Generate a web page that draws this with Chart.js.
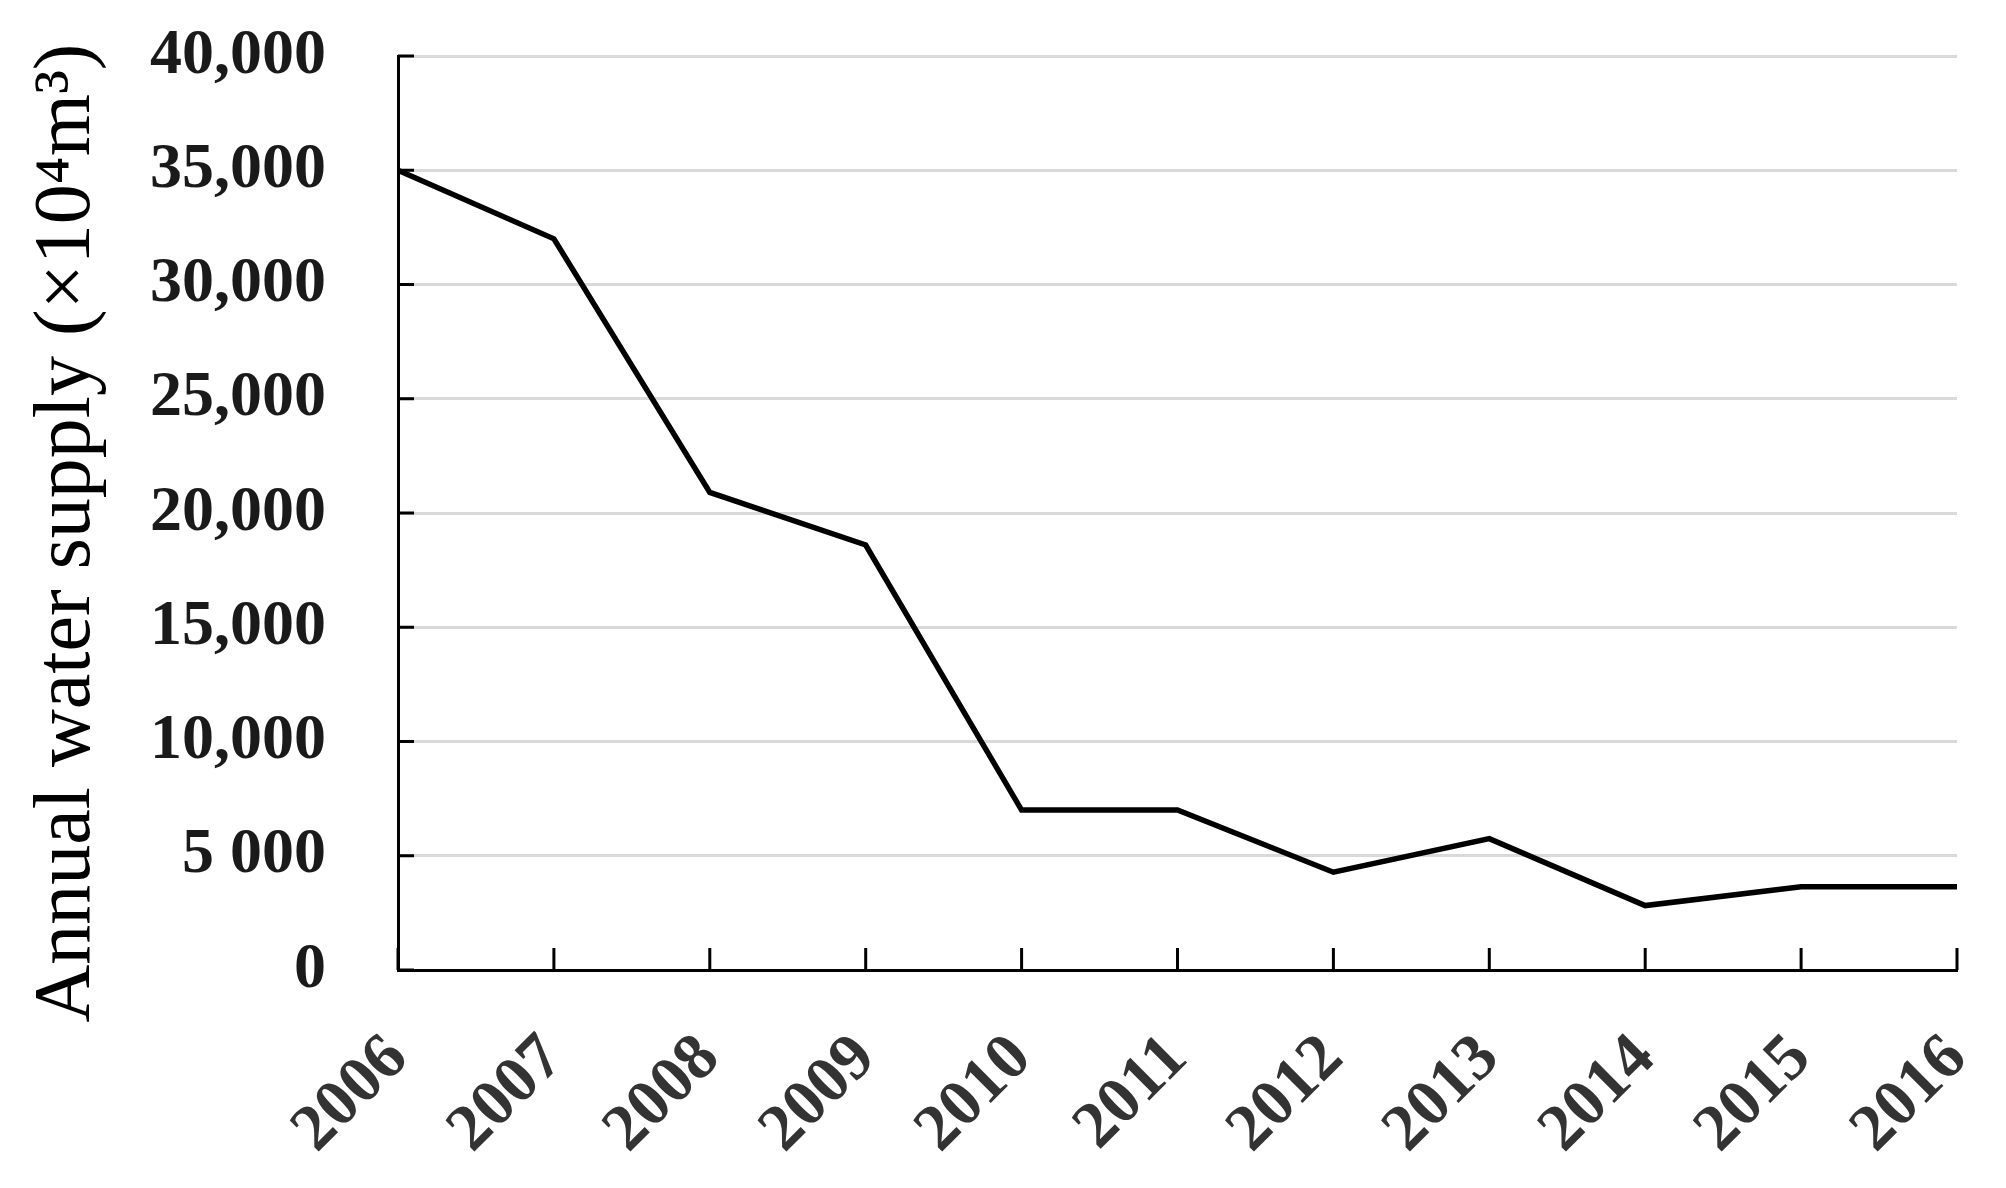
<!DOCTYPE html>
<html>
<head>
<meta charset="utf-8">
<script src="https://cdn.jsdelivr.net/npm/chart.js@4"></script>
<style>
  html, body { margin: 0; padding: 0; background: #fff; }
  canvas { display: block; }
</style>
</head>
<body>
<canvas id="chart" width="2006" height="1188"></canvas>
<script>
// data
const years = ['2006', '2007', '2008', '2009', '2010', '2011', '2012', '2013', '2014', '2015', '2016']
const waterSupply = [35000, 32000, 20900, 18600, 7000, 7000, 4280, 5750, 2820, 3640, 3640]
const yTicks = [0, 5000, 10000, 15000, 20000, 25000, 30000, 35000, 40000]
const yTickLabels = ['0', '5 000', '10,000', '15,000', '20,000', '25,000', '30,000', '35,000', '40,000']
// trailing spaces nudge the rotated title down a bit
const yTitle = 'Annual water supply (\u00d710\u2074m\u00b3)  '

// short inward tick marks, like the original figure
const innerTicks = {
  id: 'innerTicks',
  afterDraw(chart) {
    const { ctx, chartArea, scales } = chart
    ctx.save()
    ctx.strokeStyle = '#000'
    ctx.lineWidth = 3
    ctx.beginPath()
    scales.y.ticks.forEach((t, i) => {
      const y = scales.y.getPixelForTick(i)
      ctx.moveTo(chartArea.left, y)
      ctx.lineTo(chartArea.left + 16, y)
    })
    scales.x.ticks.forEach((t, i) => {
      const x = scales.x.getPixelForTick(i)
      ctx.moveTo(x, chartArea.bottom)
      ctx.lineTo(x, chartArea.bottom - 22)
    })
    ctx.stroke()
    ctx.restore()
  },
}

window.addEventListener('load', () => {
  const ctx = document.getElementById('chart').getContext('2d')
  new Chart(ctx, {
    type: 'line',
    data: {
      labels: years,
      datasets: [
        {
          data: waterSupply,
          borderColor: '#000',
          borderWidth: 5.5,
          pointRadius: 0,
          tension: 0,
          fill: false,
        },
      ],
    },
    options: {
      responsive: false,
      animation: false,
      layout: {
        padding: { left: 0, right: 49, top: 56, bottom: 0 },
      },
      plugins: {
        legend: { display: false },
        tooltip: { enabled: false },
      },
      scales: {
        x: {
          offset: false,
          grid: { display: false, drawTicks: false },
          border: { display: true, color: '#000', width: 3 },
          ticks: {
            color: '#333',
            font: { family: 'Liberation Serif', size: 66, weight: 'bold' },
            minRotation: 45,
            maxRotation: 45,
            padding: 50,
            autoSkip: false,
          },
          afterFit(scale) {
            scale.height = 218
            scale.paddingLeft = 0
            scale.paddingRight = 0
          },
        },
        y: {
          min: 0,
          max: 40000,
          afterBuildTicks(scale) {
            scale.ticks = yTicks.map((v) => ({ value: v }))
          },
          grid: { color: '#d9d9d9', lineWidth: 3, drawTicks: false },
          border: { display: true, color: '#000', width: 3 },
          ticks: {
            color: '#1a1a1a',
            font: { family: 'Liberation Serif', size: 64, weight: 'bold' },
            padding: 72,
            callback: (v) => yTickLabels[yTicks.indexOf(v)],
          },
          title: {
            display: true,
            text: yTitle,
            color: '#000',
            font: { family: 'Liberation Serif', size: 80 },
            padding: { top: 20, bottom: 0 },
          },
          afterFit(scale) {
            scale.width = 398
            scale.paddingTop = 0
            scale.paddingBottom = 0
          },
        },
      },
    },
    plugins: [innerTicks],
  })
})
</script>
</body>
</html>
